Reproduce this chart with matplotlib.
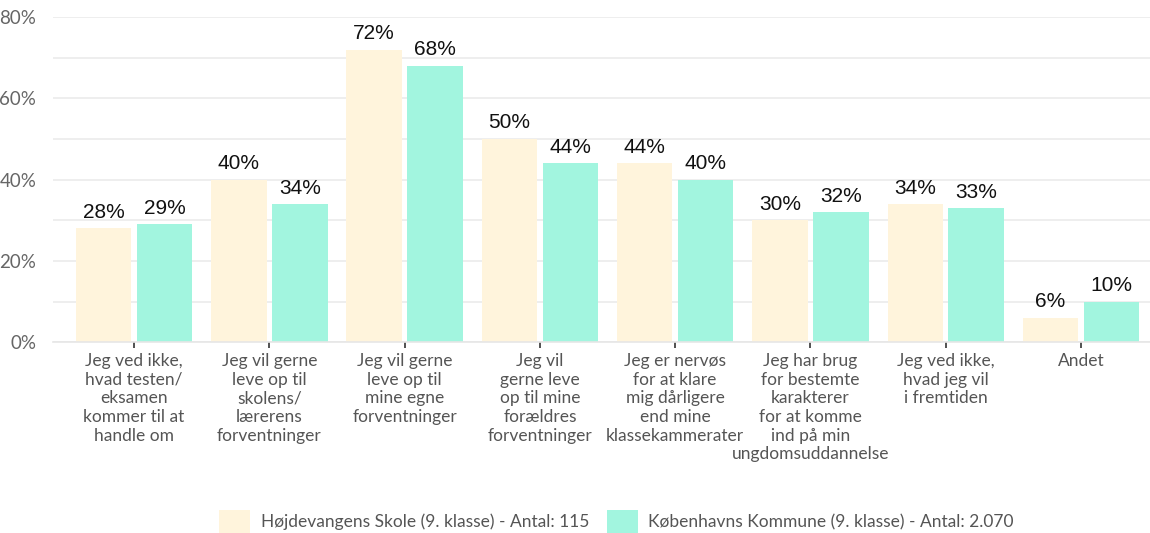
import matplotlib.pyplot as plt
import numpy as np

# Data
categories = [
    "Jeg ved ikke,\nhvad testen/\neksamen\nkommer til at\nhandle om",
    "Jeg vil gerne\nleve op til\nskolens/\nlærerens\nforventninger",
    "Jeg vil gerne\nleve op til\nmine egne\nforventninger",
    "Jeg vil\ngerne leve\nop til mine\nforældres\nforventninger",
    "Jeg er nervøs\nfor at klare\nmig dårligere\nend mine\nklassekammerater",
    "Jeg har brug\nfor bestemte\nkarakterer\nfor at komme\nind på min\nungdomsuddannelse",
    "Jeg ved ikke,\nhvad jeg vil\ni fremtiden",
    "Andet",
]
school = [28, 40, 72, 50, 44, 30, 34, 6]
kommune = [29, 34, 68, 44, 40, 32, 33, 10]
series_names = [
    "Højdevangens Skole (9. klasse) - Antal: 115",
    "Københavns Kommune (9. klasse) - Antal: 2.070",
]
colors = ["#FFF4DC", "#A2F5DF"]
yticks = [0, 20, 40, 60, 80]

fig = plt.figure(figsize=(11.5, 5.33), dpi=100)
ax = fig.add_axes([0.046, 0.358, 0.954, 0.61])

x = np.arange(len(categories))
w = 0.41
off = 0.225
b1 = ax.bar(x - off, school, w, color=colors[0], label=series_names[0], zorder=2)
b2 = ax.bar(x + off, kommune, w, color=colors[1], label=series_names[1], zorder=2)

for bars, vals in [(b1, school), (b2, kommune)]:
    for rect, v in zip(bars, vals):
        ax.text(rect.get_x() + rect.get_width() / 2, v + 1.6, f"{v}%",
                ha="center", va="bottom", fontsize=15, color="#111111",
                family="Liberation Sans")

ax.set_ylim(0, 80)
ax.set_xlim(-0.6, 7.51)
ax.set_yticks(yticks)
ax.set_yticklabels([f"{t}%" for t in yticks], family="Lato", fontsize=13.5, color="#666666")
ax.set_yticks(np.arange(0, 81, 10), minor=True)
ax.grid(axis="y", which="both", color="#EBEBEB", linewidth=1.2, zorder=0)
ax.tick_params(axis="y", which="both", length=0, pad=12)

ax.set_xticks(x)
ax.set_xticklabels(categories, family="Lato", fontsize=12.5, color="#555555",
                   linespacing=1.2, va="top")
ax.tick_params(axis="x", length=4, width=1.2, color="#333333", pad=4)

for s in ["top", "right", "left"]:
    ax.spines[s].set_visible(False)
ax.spines["bottom"].set_color("#E6E6E6")
ax.spines["bottom"].set_linewidth(1.2)

leg = fig.legend(loc="lower center", bbox_to_anchor=(0.536, -0.03), ncol=2, frameon=False,
                 prop={"family": "Lato", "size": 12.5}, handlelength=1.8,
                 handleheight=1.7, handletextpad=0.6, columnspacing=1.0)
for t in leg.get_texts():
    t.set_color("#555555")

fig.savefig("out.png", dpi=100, facecolor="white")
